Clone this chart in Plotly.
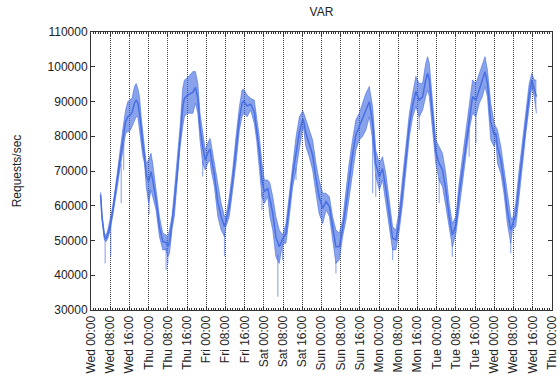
import plotly.graph_objects as go

# ---- data (hours since Wed 00:00, requests/sec) ----
hours = [4.0, 4.6, 5.6, 6.3, 7.0, 8.0, 9.0, 10.2, 11.2, 12.0, 13.2, 14.4, 15.3, 16.0, 17.1, 18.1, 18.8,
         19.5, 20.2, 20.9, 21.6, 22.3, 23.0, 24.0, 25.0, 25.7, 27.1, 28.5, 29.9, 31.3, 32.0, 32.7, 33.8,
         34.7, 36.1, 37.1, 38.2, 38.9, 39.9, 41.0, 42.4, 43.5, 44.5, 45.4, 46.5, 47.6, 48.6, 49.6, 50.0,
         51.4, 52.8, 54.2, 55.6, 56.2, 57.6, 59.0, 60.4, 61.8, 62.9, 63.6, 65.0, 66.5, 68.0, 69.0, 70.1,
         71.2, 72.2, 73.6, 74.5, 75.7, 77.0, 78.4, 79.8, 81.2, 82.6, 84.0, 85.4, 86.8, 88.0, 88.4, 89.5,
         90.9, 92.3, 93.7, 95.0, 96.5, 97.9, 99.3, 100.6, 102.0, 103.4, 104.8, 106.2, 107.5, 108.9, 110.3,
         111.7, 113.1, 114.5, 115.9, 117.3, 118.6, 120.1, 121.4, 122.8, 124.2, 125.6, 127.0, 128.4, 129.8,
         131.2, 132.6, 134.0, 135.3, 136.7, 138.1, 139.4, 140.2, 140.9, 142.3, 143.6, 145.0, 146.4, 147.8,
         149.2, 150.5, 152.0, 153.3, 154.7, 156.1, 157.5, 158.9, 160.3, 161.7, 163.0, 164.1, 165.1, 166.5,
         167.9, 168.6, 169.3, 170.7, 172.0, 173.4, 174.8, 175.5, 176.9, 178.3, 179.7, 181.1, 182.5, 183.6,
         184.6, 185.5]

band_hi = [64.0, 57.3, 52.0, 51.6, 53.0, 55.9, 59.7, 65.5, 71.2, 75.1, 81.8, 87.5, 89.9, 90.4, 90.9, 94.3, 95.2,
           93.8, 91.4, 85.6, 80.8, 76.0, 72.2, 73.2, 75.1, 72.2, 64.5, 56.9, 52.1, 51.6, 51.1, 53.0, 57.3,
           64.5, 74.1, 82.8, 93.8, 96.2, 96.7, 97.6, 98.6, 98.6, 95.2, 86.6, 81.8, 76.0, 78.0, 79.4, 78.0,
           72.2, 65.5, 60.7, 56.9, 56.9, 62.6, 70.3, 79.9, 88.5, 93.3, 93.5, 91.9, 90.9, 90.4, 85.6, 79.9,
           72.2, 67.4, 67.4, 66.5, 62.6, 56.9, 53.0, 51.6, 54.9, 63.6, 72.2, 79.9, 85.6, 87.1, 87.1, 84.7,
           81.8, 78.9, 72.2, 67.4, 63.6, 63.6, 62.6, 56.9, 53.0, 52.1, 55.9, 64.5, 72.2, 78.9, 84.7,
           86.6, 89.5, 92.4, 94.3, 88.5, 76.0, 72.2, 74.1, 69.3, 61.7, 54.0, 53.0, 58.8, 68.4,
           78.0, 86.6, 92.4, 97.2, 95.2, 95.2, 101.0, 102.9, 101.0, 89.5, 78.9, 77.0, 75.1, 69.3,
           60.7, 54.9, 56.9, 66.5, 74.1, 81.8, 89.5, 96.2, 95.2, 98.1, 101.0, 102.9, 99.1, 89.5,
           83.7, 82.8, 81.8, 77.0, 70.3, 62.6, 56.9, 55.9, 60.7, 70.3, 78.9, 87.5, 95.2, 98.1,
           96.2, 96.2]

band_lo = [62.5, 55.9, 50.1, 49.7, 50.6, 53.0, 56.9, 61.7, 66.5, 70.3, 75.1, 80.8, 81.3, 81.3, 82.8, 84.7, 85.6,
           85.6, 81.8, 77.0, 74.1, 72.2, 65.5, 60.7, 64.5, 62.6, 58.8, 51.1, 47.3, 47.3, 45.3, 46.3, 53.5,
           56.9, 67.4, 77.0, 82.8, 85.6, 86.6, 86.6, 86.6, 89.5, 86.6, 78.9, 72.2, 70.3, 72.2, 73.2, 70.3,
           65.5, 56.9, 53.0, 51.1, 54.0, 56.9, 64.5, 72.2, 81.8, 85.6, 86.6, 85.6, 87.5, 83.7, 78.9, 71.3,
           62.6, 60.7, 62.6, 56.9, 53.0, 45.3, 43.4, 49.2, 49.2, 56.9, 65.5, 70.3, 77.0, 81.8, 82.8, 77.0,
           74.1, 70.3, 63.6, 57.8, 54.9, 58.8, 56.9, 50.1, 43.4, 44.4, 51.1, 55.9, 62.6, 70.3, 76.0,
           78.9, 79.9, 81.8, 85.6, 78.9, 68.4, 64.5, 67.4, 60.7, 54.0, 47.3, 47.3, 53.0, 60.7,
           70.3, 79.9, 85.6, 88.5, 85.6, 87.5, 91.4, 93.3, 91.4, 81.8, 72.2, 67.4, 65.5, 59.7,
           53.0, 48.2, 52.1, 59.7, 66.5, 74.1, 81.8, 86.6, 85.6, 89.5, 91.4, 94.3, 91.4, 78.9,
           77.0, 78.9, 72.2, 69.3, 63.6, 54.9, 49.2, 53.0, 54.0, 62.6, 72.2, 80.8, 88.5, 94.3,
           91.4, 86.6]

spike_hours = [5.9, 8.2, 12.6, 13.6, 24.2, 31.3, 32.0, 46.5, 55.6, 71.2, 77.8, 79.8, 85.4, 102.0,
               117.3, 118.6, 125.6, 136.7, 145.0, 150.5, 157.5, 160.3, 174.8]
spike_top = [51.0, 55.0, 72.0, 78.0, 65.0, 48.0, 46.0, 73.0, 52.0, 64.0, 46.0, 49.0, 71.0, 44.0,
             80.0, 69.0, 48.0, 86.0, 68.0, 49.0, 82.0, 86.0, 50.0]
spike_low = [43.4, 45.3, 60.7, 70.3, 57.5, 41.5, 43.4, 68.4, 45.4, 58.8, 33.8, 44.4, 67.4, 40.5,
             63.6, 62.6, 44.4, 81.8, 60.7, 45.3, 74.1, 78.0, 46.3]

tick_hours = list(range(0, 193, 8))
tick_labels = ["Wed 00:00", "Wed 08:00", "Wed 16:00", "Thu 00:00", "Thu 08:00", "Thu 16:00",
               "Fri 00:00", "Fri 08:00", "Fri 16:00", "Sat 00:00", "Sat 08:00", "Sat 16:00",
               "Sun 00:00", "Sun 08:00", "Sun 16:00", "Mon 00:00", "Mon 08:00", "Mon 16:00",
               "Tue 00:00", "Tue 08:00", "Tue 16:00", "Wed 00:00", "Wed 08:00", "Wed 16:00",
               "Thu 00:00"]

BLUE = "65,105,225"

fig = go.Figure()

# spikes
sx, sy = [], []
for h, t, l in zip(spike_hours, spike_top, spike_low):
    sx += [h, h, None]
    sy += [t * 1000, l * 1000, None]
fig.add_trace(go.Scatter(x=sx, y=sy, mode="lines", line=dict(color=f"rgba({BLUE},0.55)", width=1.2),
                         hoverinfo="skip", showlegend=False))

# noise band
lo_vals = [v * 1000 for v in band_lo]
hi_vals = [v * 1000 for v in band_hi]
fig.add_trace(go.Scatter(x=hours, y=lo_vals, mode="lines",
                         line=dict(color=f"rgba({BLUE},0.7)", width=0.8), showlegend=False))
fig.add_trace(go.Scatter(x=hours, y=hi_vals, mode="lines",
                         line=dict(color=f"rgba({BLUE},0.7)", width=0.8), fill="tonexty",
                         fillcolor=f"rgba({BLUE},0.62)", showlegend=False))
# core line through the middle of the band
fig.add_trace(go.Scatter(x=hours, y=[(a + b) / 2 for a, b in zip(lo_vals, hi_vals)], mode="lines",
                         line=dict(color=f"rgba({BLUE},0.9)", width=1.5), showlegend=False))

FONT = "Liberation Sans, Arial, Helvetica, sans-serif"
fig.update_layout(
    width=560, height=384,
    margin=dict(l=91, r=8, t=32, b=74),
    paper_bgcolor="white", plot_bgcolor="white",
    font=dict(family=FONT, size=12, color="#222"),
    title=dict(text="VAR", x=0.5, xref="paper", y=0.968, yref="container", yanchor="middle",
               font=dict(size=12, color="#222")),
    showlegend=False,
)
fig.update_xaxes(
    range=[0, 192], tickmode="array", tickvals=tick_hours, ticktext=tick_labels, tickangle=-90,
    showgrid=True, gridcolor="#444", griddash="1px,1px", gridwidth=1,
    showline=True, linecolor="#333", linewidth=1, mirror="ticks",
    ticks="inside", ticklen=4, tickcolor="#333", zeroline=False, automargin=False,
    tickfont=dict(size=12, color="#222"),
    minor=dict(dtick=1, tick0=0, ticks="inside", ticklen=2, tickcolor="#333", showgrid=False),
)
fig.update_yaxes(
    range=[30000, 110000], dtick=10000, tick0=30000, tickformat="d", showgrid=False,
    showline=True, linecolor="#333", linewidth=1, mirror="ticks",
    ticks="inside", ticklen=4, tickcolor="#333", zeroline=False, automargin=False,
    tickfont=dict(size=12, color="#222"),
    title=dict(text="Requests/sec", font=dict(size=12, color="#222"), standoff=23),
)

fig.write_html("out.html", config={"displayModeBar": False},
               post_script="document.body.style.margin='0';window.dispatchEvent(new Event('resize'));")
